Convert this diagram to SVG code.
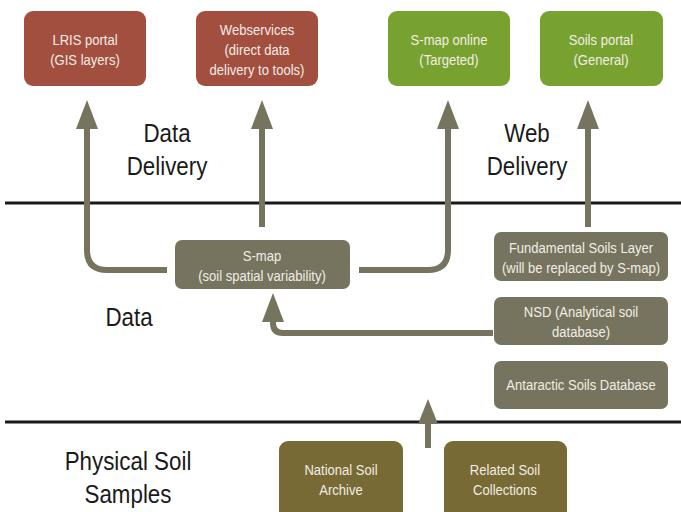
<svg xmlns="http://www.w3.org/2000/svg" width="681" height="512" viewBox="0 0 681 512">
<style>
.bt{font-family:"Liberation Sans",Arial,sans-serif;font-size:14.5px;fill:#f2ece4;text-anchor:middle}
.lb{font-family:"Liberation Sans",Arial,sans-serif;font-size:26px;fill:#1a1a1a;text-anchor:middle}
.red{fill:#a34f40}
.grn{fill:#78a22f}
.gry{fill:#76745f}
.olv{fill:#776a35}
.con{fill:none;stroke:#76745f;stroke-width:6}
.hd{fill:#76745f}
.sep{stroke:#1a1a1a;stroke-width:3}
</style>
<rect width="681" height="512" fill="#ffffff"/>
<g id="separators">
<line class="sep" x1="5" y1="203" x2="681" y2="203"/>
<line class="sep" x1="5" y1="422" x2="681" y2="422"/>
</g>
<g id="labels">
<text class="lb" transform="translate(167,142) scale(0.86,1)">Data</text>
<text class="lb" transform="translate(167,175) scale(0.86,1)">Delivery</text>
<text class="lb" transform="translate(527,142) scale(0.86,1)">Web</text>
<text class="lb" transform="translate(527,175) scale(0.86,1)">Delivery</text>
<text class="lb" transform="translate(129,326) scale(0.86,1)">Data</text>
<text class="lb" transform="translate(128,470) scale(0.86,1)">Physical Soil</text>
<text class="lb" transform="translate(128,503) scale(0.86,1)">Samples</text>
</g>
<g id="connectors">
<path class="con" d="M167,270 H107 Q87,270 87,250 V124"/>
<polygon class="hd" points="87,100 76,129 98,129"/>
<path class="con" d="M262,227 V124"/>
<polygon class="hd" points="262,100 251,129 273,129"/>
<path class="con" d="M359,270 H428 Q448,270 448,250 V124"/>
<polygon class="hd" points="448,100 437,129 459,129"/>
<path class="con" d="M588,227 V124"/>
<polygon class="hd" points="588,100 577,129 599,129"/>
<path class="con" d="M493,333 H283 Q273,333 273,323 V316"/>
<polygon class="hd" points="273,293 262,322 284,322"/>
<path class="con" d="M428,448 V420"/>
<polygon class="hd" points="428,399 418,424 438,424"/>
</g>
<g id="lris">
<rect class="red" x="24" y="11" width="122" height="75" rx="9"/>
<text class="bt" transform="translate(85,45) scale(0.9,1)">LRIS portal</text>
<text class="bt" transform="translate(85,65) scale(0.9,1)">(GIS layers)</text>
</g>
<g id="webservices">
<rect class="red" x="196" y="11" width="122" height="75" rx="9"/>
<text class="bt" transform="translate(257,35) scale(0.9,1)">Webservices</text>
<text class="bt" transform="translate(257,55) scale(0.9,1)">(direct data</text>
<text class="bt" transform="translate(257,75) scale(0.9,1)">delivery to tools)</text>
</g>
<g id="smap-online">
<rect class="grn" x="388" y="11" width="122" height="75" rx="9"/>
<text class="bt" transform="translate(449,45) scale(0.9,1)">S-map online</text>
<text class="bt" transform="translate(449,65) scale(0.9,1)">(Targeted)</text>
</g>
<g id="soils-portal">
<rect class="grn" x="540" y="11" width="123" height="75" rx="9"/>
<text class="bt" transform="translate(601,45) scale(0.9,1)">Soils portal</text>
<text class="bt" transform="translate(601,65) scale(0.9,1)">(General)</text>
</g>
<g id="smap">
<rect class="gry" x="175" y="240" width="175" height="49" rx="7"/>
<text class="bt" transform="translate(262,261) scale(0.9,1)">S-map</text>
<text class="bt" transform="translate(262,281) scale(0.9,1)">(soil spatial variability)</text>
</g>
<g id="fsl">
<rect class="gry" x="494" y="232" width="174" height="49" rx="7"/>
<text class="bt" transform="translate(581,253) scale(0.9,1)">Fundamental Soils Layer</text>
<text class="bt" transform="translate(581,273) scale(0.9,1)">(will be replaced by S-map)</text>
</g>
<g id="nsd">
<rect class="gry" x="494" y="297" width="174" height="48" rx="7"/>
<text class="bt" transform="translate(581,317) scale(0.9,1)">NSD (Analytical soil</text>
<text class="bt" transform="translate(581,337) scale(0.9,1)">database)</text>
</g>
<g id="antarctic">
<rect class="gry" x="494" y="361" width="174" height="48" rx="7"/>
<text class="bt" transform="translate(581,390) scale(0.9,1)">Antaractic Soils Database</text>
</g>
<g id="nsa">
<rect class="olv" x="279" y="441" width="124" height="80" rx="9"/>
<text class="bt" transform="translate(341,475) scale(0.9,1)">National Soil</text>
<text class="bt" transform="translate(341,495) scale(0.9,1)">Archive</text>
</g>
<g id="rsc">
<rect class="olv" x="444" y="441" width="123" height="80" rx="9"/>
<text class="bt" transform="translate(505,475) scale(0.9,1)">Related Soil</text>
<text class="bt" transform="translate(505,495) scale(0.9,1)">Collections</text>
</g>
</svg>
